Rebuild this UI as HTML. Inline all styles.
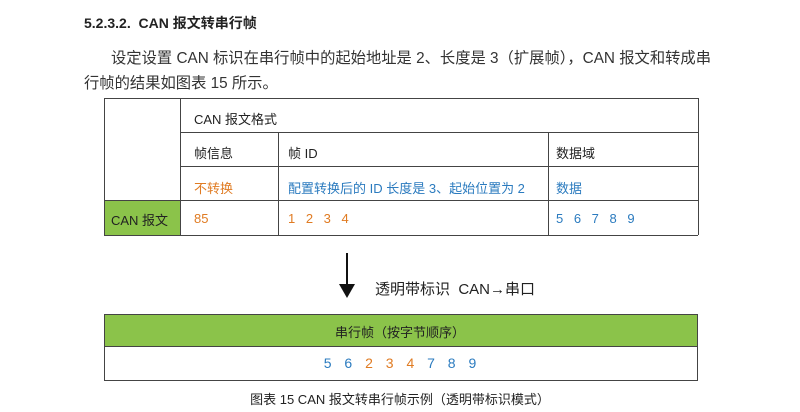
<!DOCTYPE html>
<html><head><meta charset="utf-8"><style>
body{margin:0;width:800px;height:412px;background:#fff;position:relative;overflow:hidden;font-family:"Liberation Sans","Noto Sans CJK SC",sans-serif;color:#222}
.a{position:absolute;white-space:nowrap}
.l{position:absolute;background:#444}
.o{color:#e07b22}.b{color:#2b7bbf}
</style></head><body>
<div class="a" style="left:84px;top:13px;font-size:14px;font-weight:bold">5.2.3.2.&nbsp; CAN 报文转串行帧</div>
<div class="a" style="left:111px;top:46px;font-size:15.3px;color:#333">设定设置 CAN 标识在串行帧中的起始地址是 2、长度是 3（扩展帧），CAN 报文和转成串</div>
<div class="a" style="left:84px;top:71px;font-size:15.3px;color:#333">行帧的结果如图表 15 所示。</div>

<div style="position:absolute;left:104px;top:200px;width:76px;height:35px;background:#8bc34a"></div>
<div class="l" style="left:104px;top:98px;width:594px;height:1px"></div>
<div class="l" style="left:180px;top:132px;width:518px;height:1px"></div>
<div class="l" style="left:180px;top:166px;width:518px;height:1px"></div>
<div class="l" style="left:104px;top:200px;width:594px;height:1px"></div>
<div class="l" style="left:104px;top:235px;width:594px;height:1px"></div>
<div class="l" style="left:104px;top:98px;width:1px;height:137px"></div>
<div class="l" style="left:180px;top:98px;width:1px;height:137px"></div>
<div class="l" style="left:278px;top:132px;width:1px;height:103px"></div>
<div class="l" style="left:548px;top:132px;width:1px;height:103px"></div>
<div class="l" style="left:698px;top:98px;width:1px;height:137px"></div>

<div class="a" style="left:194px;top:109px;font-size:13px">CAN 报文格式</div>
<div class="a" style="left:194px;top:143px;font-size:13px">帧信息</div>
<div class="a" style="left:288px;top:143px;font-size:13px">帧 ID</div>
<div class="a" style="left:556px;top:143px;font-size:13px">数据域</div>
<div class="a o" style="left:194px;top:178px;font-size:13px">不转换</div>
<div class="a b" style="left:288px;top:178px;font-size:13px">配置转换后的 ID 长度是 3、起始位置为 2</div>
<div class="a b" style="left:556px;top:178px;font-size:13px">数据</div>
<div class="a" style="left:111px;top:210px;font-size:13px">CAN 报文</div>
<div class="a o" style="left:194px;top:211px;font-size:13px">85</div>
<div class="a o" style="left:288px;top:211px;font-size:13px;word-spacing:7px">1 2 3 4</div>
<div class="a b" style="left:556px;top:211px;font-size:13px;word-spacing:7px">5 6 7 8 9</div>

<div class="l" style="left:346px;top:253px;width:2px;height:36px;background:#111"></div>
<svg style="position:absolute;left:339px;top:284px" width="16" height="14"><polygon points="0,0 16,0 8,14" fill="#111"/></svg>
<div class="a" style="left:375px;top:278px;font-size:15px">透明带标识&nbsp;&nbsp;CAN→串口</div>

<div style="position:absolute;left:104px;top:314px;width:594px;height:32px;background:#8bc34a"></div>
<div class="l" style="left:104px;top:314px;width:594px;height:1px"></div>
<div class="l" style="left:104px;top:346px;width:594px;height:1px"></div>
<div class="l" style="left:104px;top:380px;width:594px;height:1px"></div>
<div class="l" style="left:104px;top:314px;width:1px;height:67px"></div>
<div class="l" style="left:697px;top:314px;width:1px;height:67px"></div>
<div class="a" style="left:0;width:800px;text-align:center;top:322px;font-size:13px">串行帧（按字节顺序）</div>
<div class="a" style="left:0;width:800px;text-align:center;top:355px;font-size:14px;word-spacing:9px"><span class="b">5 6</span> <span class="o">2 3 4</span> <span class="b">7 8 9</span></div>
<div class="a" style="left:0;width:800px;text-align:center;top:389px;font-size:13px">图表 15 CAN 报文转串行帧示例（透明带标识模式）</div>
</body></html>
